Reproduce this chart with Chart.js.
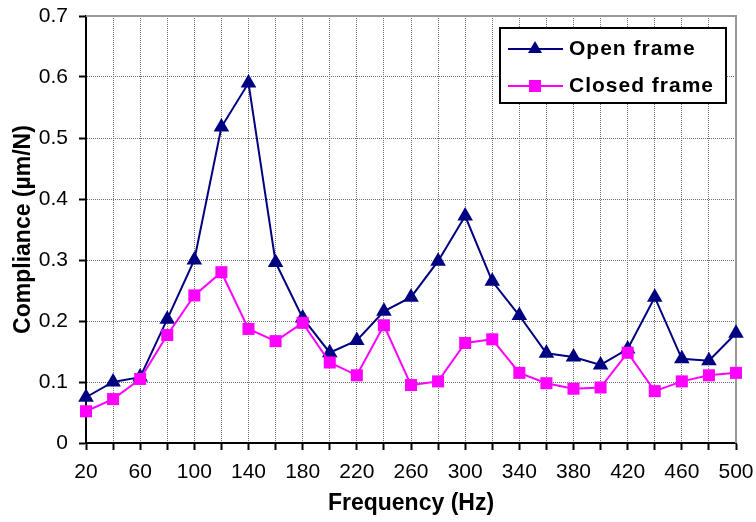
<!DOCTYPE html>
<html>
<head>
<meta charset="utf-8">
<script src="https://cdn.jsdelivr.net/npm/chart.js@4/dist/chart.umd.min.js"></script>
<style>
  html, body { margin: 0; padding: 0; background: #fff; }
  #wrap { width: 756px; height: 522px; position: relative; }
</style>
</head>
<body>
<div id="wrap"><canvas id="chart"></canvas></div>
<script>
// ── DATA ──
const freqs = [20, 40, 60, 80, 100, 120, 140, 160, 180, 200, 220, 240, 260,
               280, 300, 320, 340, 360, 380, 400, 420, 440, 460, 480, 500];
const openFrame = [0.075, 0.100, 0.108, 0.203, 0.300, 0.518, 0.590, 0.296, 0.205, 0.148,
                   0.168, 0.216, 0.239, 0.298, 0.372, 0.265, 0.209, 0.147, 0.141, 0.128,
                   0.154, 0.239, 0.138, 0.135, 0.180];
const closedFrame = [0.052, 0.072, 0.105, 0.177, 0.242, 0.280, 0.187, 0.167, 0.197, 0.132,
                     0.111, 0.193, 0.095, 0.101, 0.164, 0.170, 0.115, 0.098, 0.089, 0.091,
                     0.148, 0.085, 0.101, 0.111, 0.115];
const seriesNames = ['Open frame', 'Closed frame'];

const NAVY = '#000080';
const MAGENTA = '#FF00FF';
const GRID = '#707070';
const FONT = "'Liberation Sans', Arial, sans-serif";

// ── PLOT FRAME (grey top/right edge) ──
const frame = {
  id: 'frame',
  beforeDatasetsDraw(chart) {
    const { ctx, chartArea: a } = chart;
    ctx.save();
    ctx.strokeStyle = '#999';
    ctx.lineWidth = 2;
    ctx.beginPath();
    ctx.moveTo(a.left, a.top);
    ctx.lineTo(a.right, a.top);
    ctx.lineTo(a.right, a.bottom);
    ctx.stroke();
    ctx.restore();
  }
};

// ── BOXED LEGEND ──
const boxLegend = {
  id: 'boxLegend',
  afterDraw(chart) {
    const ctx = chart.ctx;
    const x0 = 500, y0 = 28, w = 226, h = 75;
    ctx.save();
    ctx.fillStyle = '#fff';
    ctx.fillRect(x0, y0, w, h);
    ctx.strokeStyle = '#000';
    ctx.lineWidth = 2;
    ctx.strokeRect(x0, y0, w, h);
    chart.data.datasets.forEach(ds => {
      const row = seriesNames.indexOf(ds.label);
      const cy = y0 + 21 + row * 37;
      ctx.strokeStyle = ds.borderColor;
      ctx.lineWidth = 2;
      ctx.beginPath();
      ctx.moveTo(508, cy);
      ctx.lineTo(563, cy);
      ctx.stroke();
      ctx.fillStyle = ds.pointBackgroundColor;
      const mx = 535;
      if (ds.pointStyle === 'triangle') {
        ctx.beginPath();
        ctx.moveTo(mx, cy - 8);
        ctx.lineTo(mx + 7, cy + 4);
        ctx.lineTo(mx - 7, cy + 4);
        ctx.closePath();
        ctx.fill();
      } else {
        ctx.fillRect(mx - 6, cy - 6, 12, 12);
      }
      ctx.fillStyle = '#000';
      ctx.font = 'bold 21px ' + FONT;
      ctx.letterSpacing = '1px';
      ctx.textBaseline = 'middle';
      ctx.textAlign = 'left';
      ctx.fillText(ds.label, 569, cy);
    });
    ctx.restore();
  }
};

new Chart(document.getElementById('chart'), {
  type: 'line',
  data: {
    labels: freqs,
    datasets: [{
      label: seriesNames[0],
      data: openFrame,
      borderColor: NAVY,
      backgroundColor: NAVY,
      pointBackgroundColor: NAVY,
      pointBorderColor: NAVY,
      pointStyle: 'triangle',
      pointRadius: 9,
      borderWidth: 2,
      pointBorderWidth: 0,
      tension: 0,
      clip: false,
      order: 1
    }, {
      label: seriesNames[1],
      data: closedFrame,
      borderColor: MAGENTA,
      backgroundColor: MAGENTA,
      pointBackgroundColor: MAGENTA,
      pointBorderColor: MAGENTA,
      pointStyle: 'rect',
      pointRadius: 8.5,
      borderWidth: 2,
      pointBorderWidth: 0,
      tension: 0,
      clip: false,
      order: 0
    }]
  },
  plugins: [frame, boxLegend],
  options: {
    responsive: true,
    maintainAspectRatio: false,
    animation: false,
    layout: { autoPadding: false, padding: { top: 16, right: 20, left: 0, bottom: 0 } },
    plugins: {
      legend: { display: false },
      tooltip: { enabled: false }
    },
    scales: {
      x: {
        type: 'category',
        offset: false,
        afterFit: s => { s.height = 79; s.paddingLeft = 0; s.paddingRight = 0; },
        title: {
          display: true,
          text: 'Frequency (Hz)',
          color: '#000',
          font: { family: FONT, size: 23, weight: 'bold' },
          padding: { top: 5, bottom: 5 }
        },
        grid: {
          color: GRID,
          lineWidth: 1,
          drawTicks: true,
          tickLength: 7,
          tickColor: '#000',
          tickWidth: 2
        },
        border: { display: true, color: '#000', width: 2, dash: [1, 1] },
        ticks: {
          color: '#000',
          font: { family: FONT, size: 21 },
          padding: 10,
          autoSkip: false,
          maxRotation: 0,
          callback: (v, i) => (i % 2 === 0 ? freqs[i] : '')
        }
      },
      y: {
        min: 0,
        max: 0.7,
        afterFit: s => { s.width = 86; s.paddingTop = 0; s.paddingBottom = 0; },
        title: {
          display: true,
          text: 'Compliance (µm/N)',
          color: '#000',
          font: { family: FONT, size: 23, weight: 'bold' },
          padding: { top: 10, bottom: 10 }
        },
        grid: {
          color: GRID,
          lineWidth: 1,
          drawTicks: true,
          tickLength: 7,
          tickColor: '#000',
          tickWidth: 2
        },
        border: { display: true, color: '#000', width: 2, dash: [1, 1] },
        ticks: {
          stepSize: 0.1,
          color: '#000',
          font: { family: FONT, size: 21 },
          padding: 11,
          callback: v => +v.toFixed(1)
        }
      }
    }
  }
});
</script>
</body>
</html>
